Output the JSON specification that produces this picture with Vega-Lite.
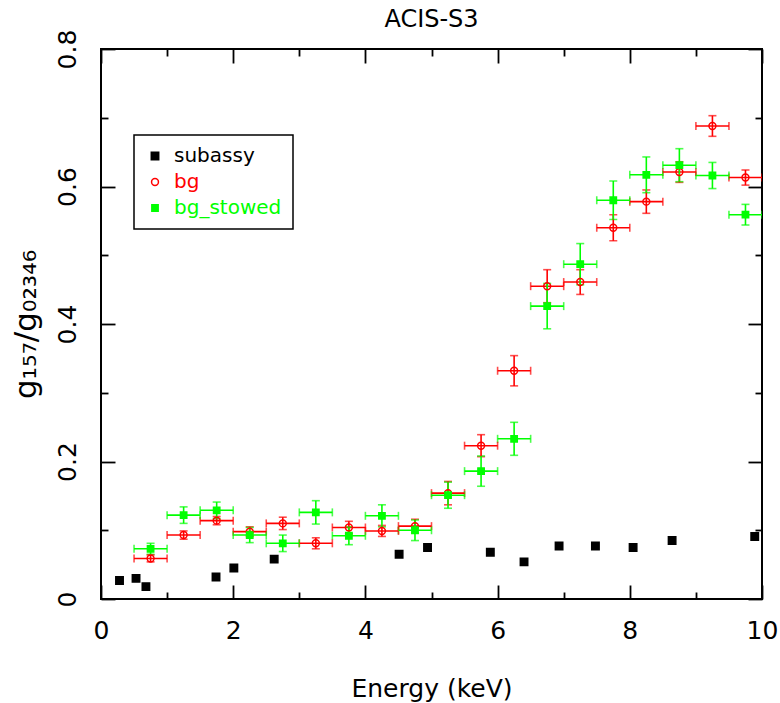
{
  "$schema": "https://vega.github.io/schema/vega-lite/v6.json",
  "width": 661,
  "height": 550,
  "autosize": {"type": "none"},
  "padding": {"left": 101, "top": 49, "right": 18, "bottom": 104},
  "background": "white",
  "title": {"text": "ACIS-S3", "fontSize": 24, "font": "DejaVu Sans", "fontWeight": "normal", "color": "black", "offset": -22, "baseline": "alphabetic"},
  "datasets": {
    "pts": [
      {"series": "subassy", "E": 0.28, "ratio": 0.027},
      {"series": "subassy", "E": 0.53, "ratio": 0.030},
      {"series": "subassy", "E": 0.68, "ratio": 0.018},
      {"series": "subassy", "E": 1.74, "ratio": 0.032},
      {"series": "subassy", "E": 2.01, "ratio": 0.045},
      {"series": "subassy", "E": 2.62, "ratio": 0.058},
      {"series": "subassy", "E": 4.51, "ratio": 0.065},
      {"series": "subassy", "E": 4.94, "ratio": 0.075},
      {"series": "subassy", "E": 5.89, "ratio": 0.068},
      {"series": "subassy", "E": 6.40, "ratio": 0.054},
      {"series": "subassy", "E": 6.93, "ratio": 0.077},
      {"series": "subassy", "E": 7.48, "ratio": 0.077},
      {"series": "subassy", "E": 8.05, "ratio": 0.075},
      {"series": "subassy", "E": 8.64, "ratio": 0.085},
      {"series": "subassy", "E": 9.89, "ratio": 0.091},
      {"series": "bg", "E": 0.75, "ratio": 0.059, "xlo": 0.5, "xhi": 1.0, "ylo": 0.054, "yhi": 0.064},
      {"series": "bg", "E": 1.25, "ratio": 0.093, "xlo": 1.0, "xhi": 1.5, "ylo": 0.087, "yhi": 0.099},
      {"series": "bg", "E": 1.75, "ratio": 0.114, "xlo": 1.5, "xhi": 2.0, "ylo": 0.108, "yhi": 0.120},
      {"series": "bg", "E": 2.25, "ratio": 0.098, "xlo": 2.0, "xhi": 2.5, "ylo": 0.091, "yhi": 0.105},
      {"series": "bg", "E": 2.75, "ratio": 0.110, "xlo": 2.5, "xhi": 3.0, "ylo": 0.101, "yhi": 0.119},
      {"series": "bg", "E": 3.25, "ratio": 0.081, "xlo": 3.0, "xhi": 3.5, "ylo": 0.073, "yhi": 0.089},
      {"series": "bg", "E": 3.75, "ratio": 0.104, "xlo": 3.5, "xhi": 4.0, "ylo": 0.095, "yhi": 0.113},
      {"series": "bg", "E": 4.25, "ratio": 0.099, "xlo": 4.0, "xhi": 4.5, "ylo": 0.091, "yhi": 0.107},
      {"series": "bg", "E": 4.75, "ratio": 0.106, "xlo": 4.5, "xhi": 5.0, "ylo": 0.096, "yhi": 0.116},
      {"series": "bg", "E": 5.25, "ratio": 0.154, "xlo": 5.0, "xhi": 5.5, "ylo": 0.137, "yhi": 0.171},
      {"series": "bg", "E": 5.75, "ratio": 0.223, "xlo": 5.5, "xhi": 6.0, "ylo": 0.207, "yhi": 0.239},
      {"series": "bg", "E": 6.25, "ratio": 0.332, "xlo": 6.0, "xhi": 6.5, "ylo": 0.310, "yhi": 0.354},
      {"series": "bg", "E": 6.75, "ratio": 0.455, "xlo": 6.5, "xhi": 7.0, "ylo": 0.431, "yhi": 0.479},
      {"series": "bg", "E": 7.25, "ratio": 0.461, "xlo": 7.0, "xhi": 7.5, "ylo": 0.443, "yhi": 0.479},
      {"series": "bg", "E": 7.75, "ratio": 0.540, "xlo": 7.5, "xhi": 8.0, "ylo": 0.521, "yhi": 0.559},
      {"series": "bg", "E": 8.25, "ratio": 0.578, "xlo": 8.0, "xhi": 8.5, "ylo": 0.561, "yhi": 0.595},
      {"series": "bg", "E": 8.75, "ratio": 0.621, "xlo": 8.5, "xhi": 9.0, "ylo": 0.606, "yhi": 0.636},
      {"series": "bg", "E": 9.25, "ratio": 0.688, "xlo": 9.0, "xhi": 9.5, "ylo": 0.673, "yhi": 0.703},
      {"series": "bg", "E": 9.75, "ratio": 0.613, "xlo": 9.5, "xhi": 10.0, "ylo": 0.602, "yhi": 0.624},
      {"series": "bg_stowed", "E": 0.75, "ratio": 0.073, "xlo": 0.5, "xhi": 1.0, "ylo": 0.065, "yhi": 0.081},
      {"series": "bg_stowed", "E": 1.25, "ratio": 0.122, "xlo": 1.0, "xhi": 1.5, "ylo": 0.110, "yhi": 0.134},
      {"series": "bg_stowed", "E": 1.75, "ratio": 0.129, "xlo": 1.5, "xhi": 2.0, "ylo": 0.117, "yhi": 0.141},
      {"series": "bg_stowed", "E": 2.25, "ratio": 0.093, "xlo": 2.0, "xhi": 2.5, "ylo": 0.082, "yhi": 0.104},
      {"series": "bg_stowed", "E": 2.75, "ratio": 0.081, "xlo": 2.5, "xhi": 3.0, "ylo": 0.069, "yhi": 0.093},
      {"series": "bg_stowed", "E": 3.25, "ratio": 0.126, "xlo": 3.0, "xhi": 3.5, "ylo": 0.109, "yhi": 0.143},
      {"series": "bg_stowed", "E": 3.75, "ratio": 0.092, "xlo": 3.5, "xhi": 4.0, "ylo": 0.079, "yhi": 0.105},
      {"series": "bg_stowed", "E": 4.25, "ratio": 0.121, "xlo": 4.0, "xhi": 4.5, "ylo": 0.105, "yhi": 0.137},
      {"series": "bg_stowed", "E": 4.75, "ratio": 0.100, "xlo": 4.5, "xhi": 5.0, "ylo": 0.085, "yhi": 0.115},
      {"series": "bg_stowed", "E": 5.25, "ratio": 0.151, "xlo": 5.0, "xhi": 5.5, "ylo": 0.132, "yhi": 0.170},
      {"series": "bg_stowed", "E": 5.75, "ratio": 0.186, "xlo": 5.5, "xhi": 6.0, "ylo": 0.164, "yhi": 0.208},
      {"series": "bg_stowed", "E": 6.25, "ratio": 0.233, "xlo": 6.0, "xhi": 6.5, "ylo": 0.209, "yhi": 0.257},
      {"series": "bg_stowed", "E": 6.75, "ratio": 0.426, "xlo": 6.5, "xhi": 7.0, "ylo": 0.393, "yhi": 0.459},
      {"series": "bg_stowed", "E": 7.25, "ratio": 0.487, "xlo": 7.0, "xhi": 7.5, "ylo": 0.457, "yhi": 0.517},
      {"series": "bg_stowed", "E": 7.75, "ratio": 0.580, "xlo": 7.5, "xhi": 8.0, "ylo": 0.552, "yhi": 0.608},
      {"series": "bg_stowed", "E": 8.25, "ratio": 0.617, "xlo": 8.0, "xhi": 8.5, "ylo": 0.591, "yhi": 0.643},
      {"series": "bg_stowed", "E": 8.75, "ratio": 0.631, "xlo": 8.5, "xhi": 9.0, "ylo": 0.607, "yhi": 0.655},
      {"series": "bg_stowed", "E": 9.25, "ratio": 0.616, "xlo": 9.0, "xhi": 9.5, "ylo": 0.597, "yhi": 0.635},
      {"series": "bg_stowed", "E": 9.75, "ratio": 0.559, "xlo": 9.5, "xhi": 10.0, "ylo": 0.544, "yhi": 0.574}
    ]
  },
  "data": {"name": "pts"},
  "layer": [
    {
      "transform": [{"filter": "datum.series !== 'subassy'"}],
      "mark": {"type": "errorbar", "ticks": {"size": 8}, "thickness": 1.6, "clip": true},
      "encoding": {
        "x": {"field": "xlo", "type": "quantitative", "scale": {"domain": [0, 10], "nice": false, "zero": false}, "axis": null},
        "x2": {"field": "xhi"},
        "y": {"field": "ratio", "type": "quantitative", "scale": {"domain": [0, 0.8], "nice": false}, "axis": null},
        "color": {"field": "series", "type": "nominal", "scale": {"domain": ["bg", "bg_stowed"], "range": ["#ff0000", "#00ff00"]}, "legend": null}
      }
    },
    {
      "transform": [{"filter": "datum.series !== 'subassy'"}],
      "mark": {"type": "errorbar", "ticks": {"size": 8}, "thickness": 1.6, "clip": true},
      "encoding": {
        "x": {"field": "E", "type": "quantitative", "axis": null},
        "y": {"field": "ylo", "type": "quantitative", "axis": null},
        "y2": {"field": "yhi"},
        "color": {"field": "series", "type": "nominal", "legend": null}
      }
    },
    {
      "mark": {"type": "point", "opacity": 1, "strokeWidth": 1.5, "clip": true},
      "encoding": {
        "x": {
          "field": "E", "type": "quantitative", "title": "Energy (keV)",
          "axis": {
            "orient": "bottom",
            "values": [0, 1, 2, 3, 4, 5, 6, 7, 8, 9, 10],
            "tickSize": {"condition": {"test": "datum.value % 2 === 0", "value": -14}, "value": -7},
            "labelExpr": "datum.value % 2 === 0 ? datum.label : ''",
            "format": "d",
            "labelPadding": 33,
            "titlePadding": 26
          }
        },
        "y": {
          "field": "ratio", "type": "quantitative", "title": "g₁₅₇/g₀₂₃₄₆",
          "axis": {
            "orient": "left",
            "values": [0, 0.1, 0.2, 0.3, 0.4, 0.5, 0.6, 0.7, 0.8],
            "tickSize": {"condition": {"test": "round(datum.value * 10) % 2 === 0", "value": -14}, "value": -7},
            "labelExpr": "round(datum.value * 10) % 2 === 0 ? (datum.value === 0 ? '0' : format(datum.value, '.1f')) : ''",
            "labelAngle": -90,
            "labelAlign": "center",
            "labelBaseline": "bottom",
            "labelPadding": 35,
            "titleFontSize": 31,
            "titlePadding": 6
          }
        },
        "stroke": {
          "field": "series", "type": "nominal",
          "scale": {"domain": ["subassy", "bg", "bg_stowed"], "range": ["#000000", "#ff0000", "#00ff00"]},
          "title": null,
          "legend": {
            "orient": "none", "legendX": 33, "legendY": 86,
            "padding": 11, "strokeColor": "black",
            "labelFontSize": 20, "labelOffset": 9, "rowPadding": 6,
            "symbolStrokeWidth": 1.5, "fillColor": "white",
            "labelColor": {"expr": "datum.value === 'bg' ? '#ff0000' : (datum.value === 'bg_stowed' ? '#00ff00' : '#000000')"}
          }
        },
        "fill": {"field": "series", "type": "nominal", "scale": {"domain": ["subassy", "bg", "bg_stowed"], "range": ["#000000", "transparent", "#00ff00"]}, "title": null},
        "shape": {"field": "series", "type": "nominal", "scale": {"domain": ["subassy", "bg", "bg_stowed"], "range": ["square", "circle", "square"]}, "title": null},
        "size": {"field": "series", "type": "nominal", "scale": {"domain": ["subassy", "bg", "bg_stowed"], "range": [55, 40, 55]}, "title": null}
      }
    },
    {
      "mark": {"type": "point", "opacity": 0},
      "encoding": {
        "x": {
          "field": "E", "type": "quantitative", "title": null,
          "axis": {
            "orient": "top",
            "values": [0, 1, 2, 3, 4, 5, 6, 7, 8, 9, 10],
            "tickSize": {"condition": {"test": "datum.value % 2 === 0", "value": -14}, "value": -7},
            "labels": false
          }
        },
        "y": {
          "field": "ratio", "type": "quantitative", "title": null,
          "axis": {
            "orient": "right",
            "values": [0, 0.1, 0.2, 0.3, 0.4, 0.5, 0.6, 0.7, 0.8],
            "tickSize": {"condition": {"test": "round(datum.value * 10) % 2 === 0", "value": -14}, "value": -7},
            "labels": false
          }
        }
      }
    }
  ],
  "resolve": {"axis": {"x": "independent", "y": "independent"}},
  "config": {
    "font": "DejaVu Sans",
    "view": {"stroke": "black", "strokeWidth": 2},
    "axis": {
      "domain": false, "grid": false,
      "labelColor": "black", "tickColor": "black", "titleColor": "black",
      "titleFontWeight": "normal", "labelFontSize": 25, "titleFontSize": 25,
      "tickWidth": 1.8, "labelFlush": false, "labelOverlap": false
    },
    "legend": {"strokeWidth": 1.5}
  }
}
